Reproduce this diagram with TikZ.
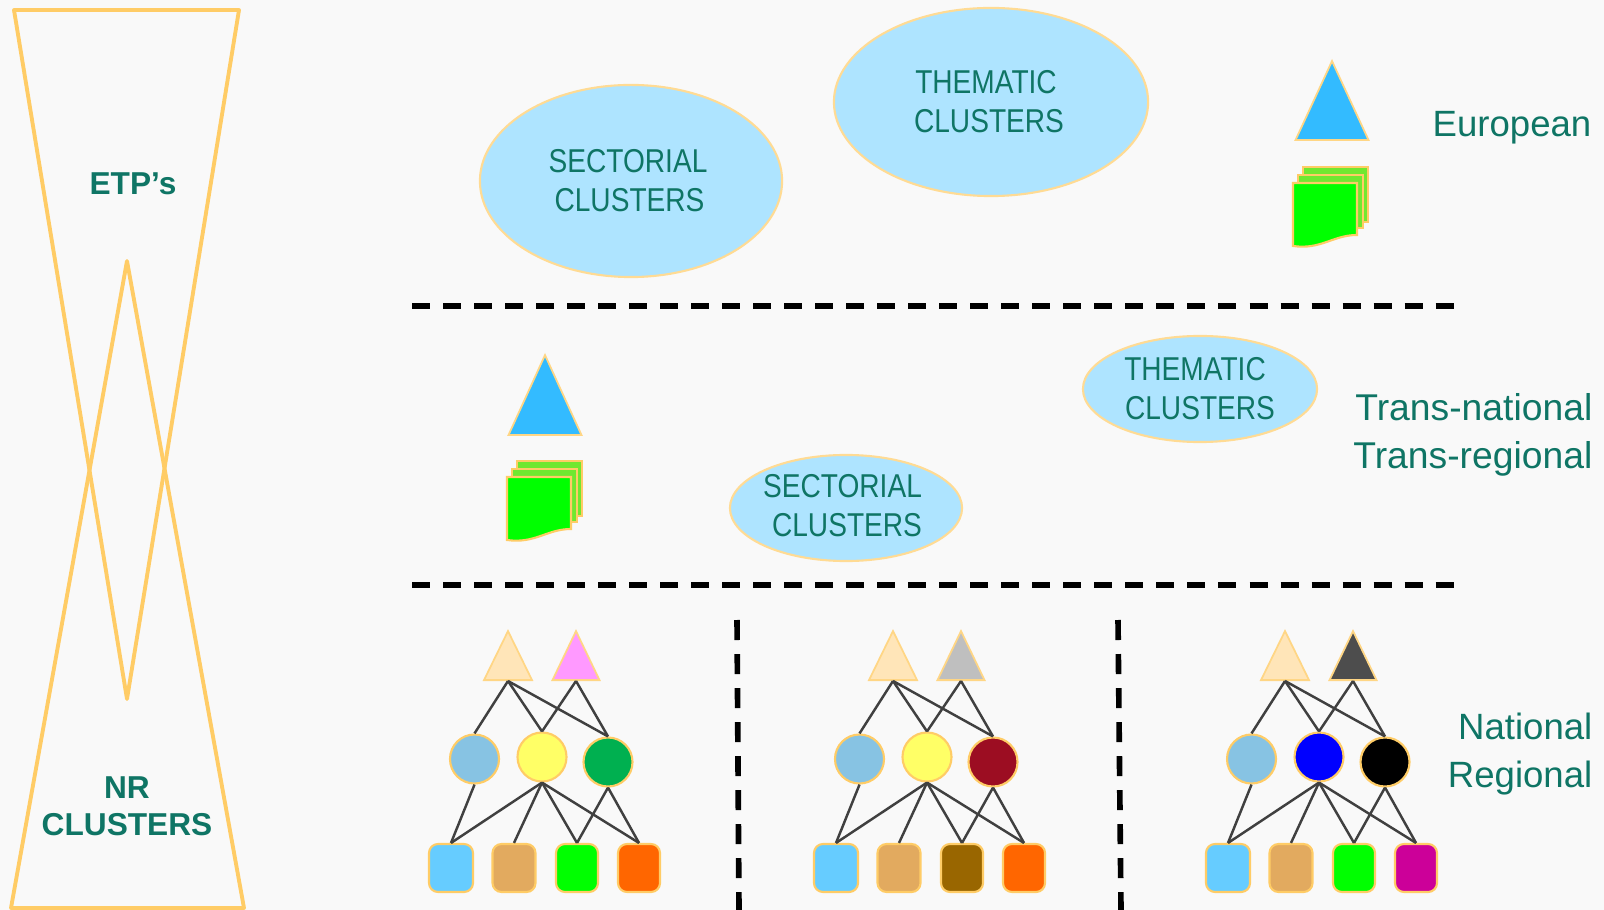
\documentclass[tikz,border=0pt]{standalone}
\usepackage{fontspec}
\setmainfont{Liberation Sans}
\usetikzlibrary{shapes.geometric}
\definecolor{bgcol}{HTML}{F9F9F9}
\definecolor{rimcol}{HTML}{FFCC66}
\definecolor{txtcol}{HTML}{0F7565}
\definecolor{skycol}{HTML}{AEE4FF}
\definecolor{apexcol}{HTML}{33BBFF}
\definecolor{sandcol}{HTML}{FFE5B8}
\definecolor{palecol}{HTML}{87C3E3}
\definecolor{aquacol}{HTML}{66CCFF}
\definecolor{tancol}{HTML}{E2AA5F}
\definecolor{leafcol}{HTML}{70E830}
\newcommand{\slim}[2][0cm]{\hspace*{#1}\scalebox{0.85}[1]{#2}}
\tikzset{
    cluster/.style={ellipse, draw=rimcol!70, fill=skycol, line width=0.6pt, inner sep=0pt, align=center, text=txtcol,
        font=\fontsize{9.4}{11.1}\selectfont},
    level/.style={anchor=east, align=right, text=txtcol, inner sep=0pt, font=\fontsize{10.4}{13.6}\selectfont},
    hour/.style={anchor=center, align=center, text=txtcol, inner sep=0pt, font=\fontsize{9}{10.6}\selectfont\bfseries},
    apex/.style={isosceles triangle, isosceles triangle apex angle=50, isosceles triangle stretches, shape border rotate=90,
        draw=rimcol!80, line width=0.5pt, inner sep=0pt, anchor=lower side},
    ball/.style={circle, draw=rimcol, line width=0.6pt, minimum size=0.49cm, inner sep=0pt},
    tile/.style={rectangle, rounded corners=0.9mm, draw=rimcol, line width=0.6pt, minimum width=0.43cm, minimum height=0.48cm, inner sep=0pt},
    link/.style={draw=black!75, line width=0.7pt},
    cut/.style={line width=1.6pt, dash pattern=on 0.18cm off 0.13cm},
    cutv/.style={line width=1.6pt, dash pattern=on 0.2cm off 0.14cm},
    pages/.pic={
        \draw[rimcol, line width=0.6pt, fill=leafcol] (10,-16) -- (75,-16) -- (75,39) -- (10,39) -- cycle;
        \draw[rimcol, line width=0.6pt, fill=leafcol] (5,-8) -- (70,-8) -- (70,45) -- (5,45) -- cycle;
        \draw[rimcol, line width=0.6pt, fill=green] (0,0) -- (64,0) -- (64,52) .. controls (40,52) and (28,67) .. (0,63) -- cycle;
    }
}
\begin{document}
\begin{tikzpicture}[x=0.01cm,y=-0.01cm]

    \fill[bgcol] (0,0) rectangle (1604,910);
    \useasboundingbox (0,0) rectangle (1604,910);

    % hourglass
    \coordinate (0) at (14,10);
    \coordinate (1) at (239,10);
    \coordinate (2) at (127,699);
    \coordinate (3) at (127,261);
    \coordinate (4) at (244,908);
    \coordinate (5) at (11,908);

    \draw[rimcol, line width=1.1pt, line join=round] (0) -- (1) -- (2) -- cycle;
    \draw[rimcol, line width=1.1pt, line join=round] (3) -- (4) -- (5) -- cycle;

    \node[hour] (etp) at (133,184) {ETP’s};
    \node[hour] (nr) at (127,806) {NR\\CLUSTERS};

    % levels
    \coordinate (6) at (412,306);
    \coordinate (7) at (1456,306);
    \coordinate (8) at (412,585);
    \coordinate (9) at (1456,585);
    \draw[cut] (6) -- (7);
    \draw[cut] (8) -- (9);

    \coordinate (10) at (737,620);
    \coordinate (11) at (739,910);
    \coordinate (12) at (1118,620);
    \coordinate (13) at (1121,910);
    \draw[cutv] (10) -- (11);
    \draw[cutv] (12) -- (13);

    \node[cluster, minimum width=3.02cm, minimum height=1.92cm] (sect1) at (631,181) {\slim[-0.06cm]{SECTORIAL}\\\slim[-0.03cm]{CLUSTERS}};
    \node[cluster, minimum width=3.14cm, minimum height=1.88cm] (them1) at (991,102) {\slim[-0.1cm]{THEMATIC}\\\slim[-0.04cm]{CLUSTERS}};
    \node[cluster, minimum width=2.34cm, minimum height=1.06cm] (them2) at (1200,389) {\slim[-0.1cm]{THEMATIC}\\\slim{CLUSTERS}};
    \node[cluster, minimum width=2.32cm, minimum height=1.06cm] (sect2) at (846,508) {\raisebox{0.02cm}[\height][\depth]{\slim[-0.07cm]{SECTORIAL}}\\\raisebox{0.02cm}[\height][\depth]{\slim[0.02cm]{CLUSTERS}}};

    \node[level] (euro) at (1592,128) {European};
    \node[level, font=\fontsize{10.6}{13.6}\selectfont] (trans) at (1593,435) {Trans-national\\Trans-regional};
    \node[level] (nat) at (1593,754) {National\\Regional};

    \node[apex, fill=apexcol, minimum width=0.73cm, minimum height=0.79cm] (top1) at (1332,141) {};
    \node[apex, fill=apexcol, minimum width=0.73cm, minimum height=0.8cm] (top2) at (545,436) {};
    \pic at (1293,183) {pages};
    \pic at (507,477) {pages};

    % national clusters
    \foreach \n/\dx/\tb/\cb/\cc/\sc/\sd in {
        a/0/FF99FF/FFFF66/00B050/00FF00/FF6600,
        b/385/BFBFBF/FFFF66/9C0D22/996600/FF6600,
        c/777/4D4D4D/0000FF/000000/00FF00/CC0099}
    {
        \definecolor{topb}{HTML}{\tb}
        \definecolor{mida}{HTML}{\cb}
        \definecolor{midb}{HTML}{\cc}
        \definecolor{lowa}{HTML}{\sc}
        \definecolor{lowb}{HTML}{\sd}

        \node[apex, fill=sandcol, minimum width=0.48cm, minimum height=0.49cm] (\n t0) at (508+\dx,681) {};
        \node[apex, fill=topb, minimum width=0.47cm, minimum height=0.49cm] (\n t1) at (576+\dx,681) {};

        \node[ball, fill=palecol] (\n c0) at (474.5+\dx,759) {};
        \node[ball, fill=mida] (\n c1) at (542+\dx,757) {};
        \node[ball, fill=midb] (\n c2) at (608+\dx,762) {};

        \node[tile, fill=aquacol, minimum width=0.44cm] (\n s0) at (451+\dx,868) {};
        \node[tile, fill=tancol] (\n s1) at (514+\dx,868) {};
        \node[tile, fill=lowa, minimum width=0.42cm] (\n s2) at (577+\dx,868) {};
        \node[tile, fill=lowb, minimum width=0.42cm] (\n s3) at (639+\dx,868) {};

        \draw[link] (\n t0.lower side) -- (\n c0.north);
        \draw[link] (\n t0.lower side) -- (\n c1.north);
        \draw[link] (\n t0.lower side) -- (\n c2.north);
        \draw[link] (\n t1.lower side) -- (\n c1.north);
        \draw[link] (\n t1.lower side) -- (\n c2.north);

        \draw[link] (\n c0.south) -- (\n s0.north);
        \draw[link] (\n c1.south) -- (\n s0.north);
        \draw[link] (\n c1.south) -- (\n s1.north);
        \draw[link] (\n c1.south) -- (\n s2.north);
        \draw[link] (\n c1.south) -- (\n s3.north);
        \draw[link] (\n c2.south) -- (\n s2.north);
        \draw[link] (\n c2.south) -- (\n s3.north);
    }

\end{tikzpicture}
\end{document}
